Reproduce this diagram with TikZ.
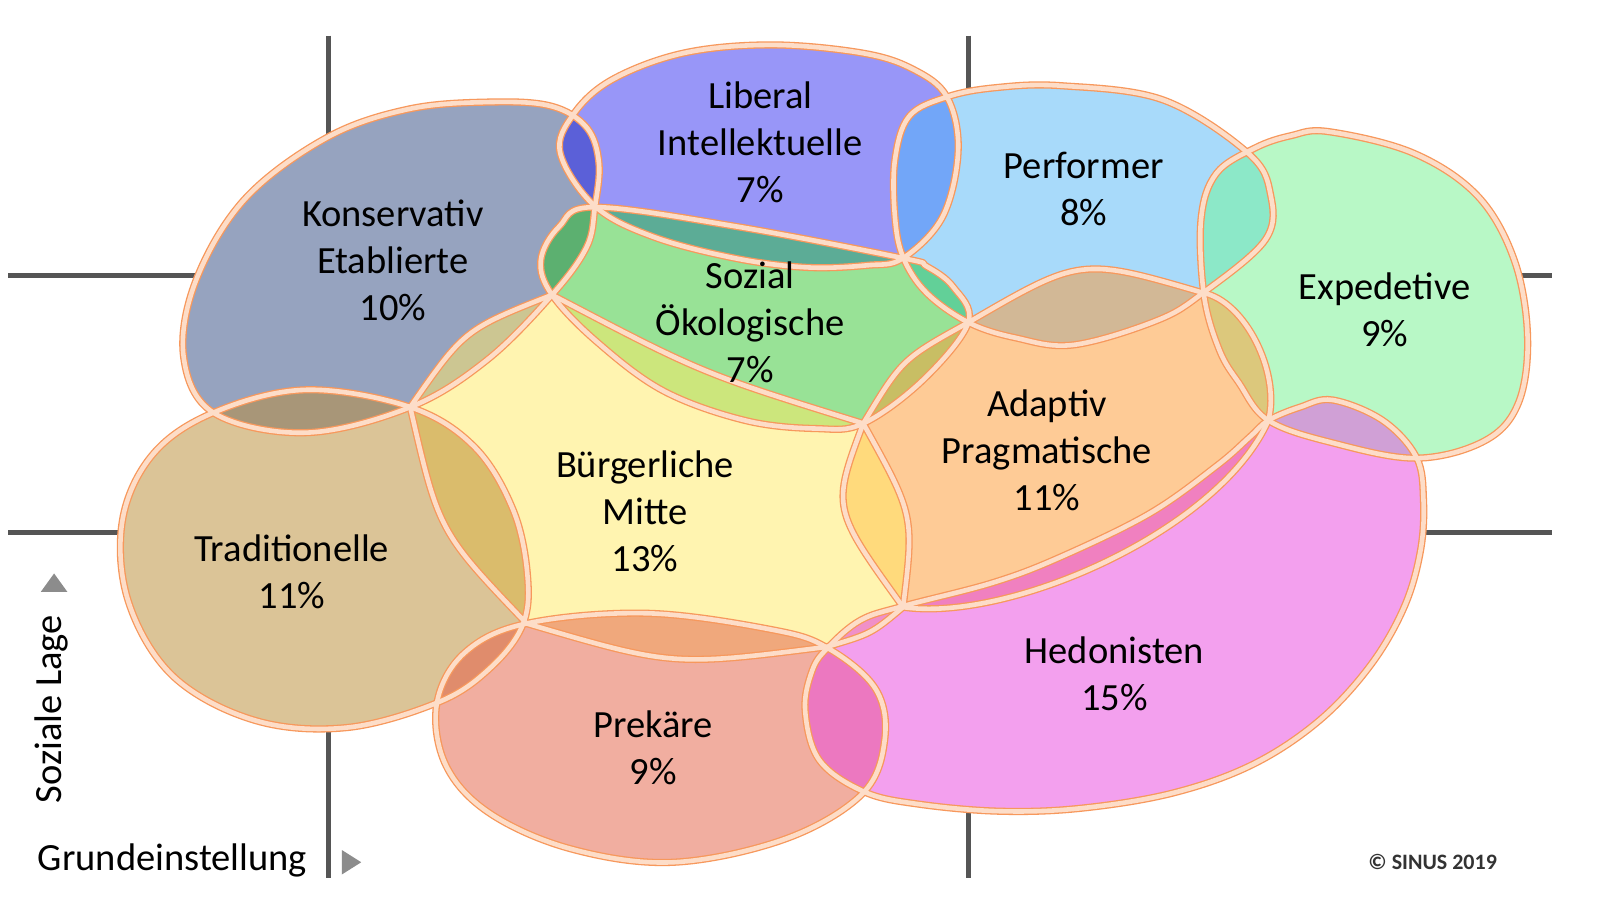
\documentclass[tikz,border=0pt]{standalone}
\usepackage{fontspec}
\setmainfont{Carlito}
\definecolor{cKE}{HTML}{96A3BF}
\definecolor{cLI}{HTML}{9896F8}
\definecolor{cSO}{HTML}{98E296}
\definecolor{cPF}{HTML}{A8DAFA}
\definecolor{cEX}{HTML}{B8F8C6}
\definecolor{cAP}{HTML}{FECB96}
\definecolor{cBM}{HTML}{FFF4B0}
\definecolor{cTR}{HTML}{DBC497}
\definecolor{cPR}{HTML}{F1AEA0}
\definecolor{cHE}{HTML}{F3A0EE}
\definecolor{oKELI}{HTML}{5B60D8}
\definecolor{oKESO}{HTML}{5CB070}
\definecolor{oKEBM}{HTML}{CCC692}
\definecolor{oKETR}{HTML}{A89678}
\definecolor{oLISO}{HTML}{5CAC96}
\definecolor{oLIPF}{HTML}{72A6F8}
\definecolor{oPFSO}{HTML}{62D098}
\definecolor{oPFAP}{HTML}{D2B896}
\definecolor{oPFEX}{HTML}{8CE8C8}
\definecolor{oSOBM}{HTML}{CCE67C}
\definecolor{oSOAP}{HTML}{C8BE64}
\definecolor{oEXAP}{HTML}{DCC87C}
\definecolor{oEXHE}{HTML}{D0A0D6}
\definecolor{oAPBM}{HTML}{FFDA7C}
\definecolor{oAPHE}{HTML}{F080C0}
\definecolor{oBMTR}{HTML}{DABC6C}
\definecolor{oBMPR}{HTML}{F0A87C}
\definecolor{oTRPR}{HTML}{E08C6C}
\definecolor{oPRHE}{HTML}{EC78C0}
\definecolor{oBMHE}{HTML}{F090C8}
\definecolor{edgeorange}{HTML}{F7985C}
\definecolor{edgepeach}{HTML}{FDDDC8}
\definecolor{axisgray}{HTML}{555555}
\definecolor{trigray}{HTML}{8C8C8C}
\definecolor{copygray}{HTML}{333333}

\def\blKE{plot[smooth cycle, tension=0.6] coordinates {(480,100) (540,104) (575,125) (587,160) (583,203) (575,242) (541,289) (477,353) (402,399) (300,424) (210,405) (180,350) (192,275) (240,195) (320,135) (400,107)}}
\def\blLI{plot[smooth cycle, tension=0.6] coordinates {(756,44) (845,52) (895,68) (928,95) (939,147) (924,212) (885,253) (850,260) (790,262) (720,253) (640,232) (583,202) (549,150) (562,112) (600,78) (670,52)}}
\def\blSO{plot[smooth cycle, tension=0.6] coordinates {(530,255) (541,289) (585,335) (650,383) (730,412) (800,420) (846,415) (905,372) (949,316) (934,281) (908,261) (885,253) (722,222) (583,203) (548,222)}}
\def\blPF{plot[smooth cycle, tension=0.6] coordinates {(1040,84) (1140,98) (1223,150) (1245,190) (1240,235) (1179,287) (1134,314) (1052,338) (995,331) (949,316) (908,287) (885,252) (877,212) (877,157) (891,114) (928,95) (975,86)}}
\def\blEX{plot[smooth cycle, tension=0.6] coordinates {(1302,129) (1385,150) (1448,192) (1484,255) (1497,330) (1488,395) (1455,432) (1388,449) (1306,434) (1243,412) (1214,375) (1195,343) (1180,290) (1177,215) (1192,170) (1230,145) (1265,133)}}
\def\blTR{plot[smooth cycle, tension=0.6] coordinates {(300,382) (402,399) (465,438) (503,500) (517,565) (512,613) (480,655) (430,688) (340,713) (250,706) (170,663) (126,590) (120,510) (150,445) (210,404)}}
\def\blPR{plot[smooth cycle, tension=0.6] coordinates {(516,611) (634,601) (756,617) (811,635) (858,675) (867,725) (845,778) (770,822) (660,845) (560,832) (480,797) (437,750) (428,690) (455,640)}}
\def\blHE{plot[smooth cycle, tension=0.6] coordinates {(1243,412) (1274,399) (1306,392) (1355,412) (1388,448) (1395,490) (1392,540) (1376,595) (1343,652) (1293,706) (1228,749) (1150,777) (1060,792) (980,795) (900,788) (847,776) (803,745) (789,696) (796,657) (811,635) (843,608) (885,594) (973,571) (1039,546) (1127,503) (1193,456) (1225,428)}}
\def\blBM{(402,399) .. controls (455,323) .. (541,289) .. controls (688,366) .. (846,415) .. controls (896,505) .. (885,595) .. controls (854,621) .. (810,634) .. controls (659,653) .. (516,611) .. controls (430,521) .. (402,399) -- cycle}
\def\blAP{(949,316) .. controls (1059,252) .. (1179,287) .. controls (1220,295) and (1255,365) .. (1243,412) .. controls (1195,520) and (990,610) .. (885,595) .. controls (815,498) .. (846,415) .. controls (884,352) .. (949,316) -- cycle}

\newcommand\ovlfill[3]{\begin{scope}\clip #1;\fill[#3] #2;\end{scope}}

\begin{document}
\begin{tikzpicture}[x=1.0204pt,y=-1.0204pt,line join=round,
  lbl/.style={align=center,font=\fontsize{38.5}{47}\selectfont,inner sep=0pt,text=black},
  axisline/.style={line width=5.5pt,draw=axisgray},
  edgeo/.style={draw=edgeorange,line width=7.2pt},
  edgep/.style={draw=edgepeach,line width=4.6pt},
  tri/.style={fill=trigray}]
\useasboundingbox (0,0) rectangle (1568,882);
\fill[white] (0,0) rectangle (1568,882);

% axis cross lines
\coordinate (a1s) at (322,35);   \coordinate (a1e) at (322,200);
\coordinate (a2s) at (8,270);    \coordinate (a2e) at (250,270);
\coordinate (a3s) at (949,35);   \coordinate (a3e) at (949,150);
\coordinate (a4s) at (1440,270); \coordinate (a4e) at (1521,270);
\coordinate (a5s) at (8,522);    \coordinate (a5e) at (170,522);
\coordinate (a6s) at (322,680);  \coordinate (a6e) at (322,860);
\coordinate (a7s) at (949,760);  \coordinate (a7e) at (949,860);
\coordinate (a8s) at (1350,522); \coordinate (a8e) at (1521,522);
\draw[axisline] (a1s) -- (a1e);
\draw[axisline] (a2s) -- (a2e);
\draw[axisline] (a3s) -- (a3e);
\draw[axisline] (a4s) -- (a4e);
\draw[axisline] (a5s) -- (a5e);
\draw[axisline] (a6s) -- (a6e);
\draw[axisline] (a7s) -- (a7e);
\draw[axisline] (a8s) -- (a8e);

% base fills
\fill[cKE] \blKE;
\fill[cLI] \blLI;
\fill[cSO] \blSO;
\fill[cPF] \blPF;
\fill[cEX] \blEX;
\fill[cAP] \blAP;
\fill[cBM] \blBM;
\fill[cTR] \blTR;
\fill[cPR] \blPR;
\fill[cHE] \blHE;

% overlaps
\ovlfill{\blKE}{\blLI}{oKELI}
\ovlfill{\blKE}{\blSO}{oKESO}
\ovlfill{\blKE}{\blBM}{oKEBM}
\ovlfill{\blKE}{\blTR}{oKETR}
\ovlfill{\blLI}{\blSO}{oLISO}
\ovlfill{\blLI}{\blPF}{oLIPF}
\ovlfill{\blPF}{\blSO}{oPFSO}
\ovlfill{\blPF}{\blAP}{oPFAP}
\ovlfill{\blPF}{\blEX}{oPFEX}
\ovlfill{\blSO}{\blBM}{oSOBM}
\ovlfill{\blSO}{\blAP}{oSOAP}
\ovlfill{\blEX}{\blAP}{oEXAP}
\ovlfill{\blEX}{\blHE}{oEXHE}
\ovlfill{\blAP}{\blBM}{oAPBM}
\ovlfill{\blAP}{\blHE}{oAPHE}
\ovlfill{\blBM}{\blTR}{oBMTR}
\ovlfill{\blBM}{\blPR}{oBMPR}
\ovlfill{\blTR}{\blPR}{oTRPR}
\ovlfill{\blPR}{\blHE}{oPRHE}
\ovlfill{\blBM}{\blHE}{oBMHE}

% outlines
\foreach \p in {\blKE,\blLI,\blSO,\blPF,\blEX,\blAP,\blBM,\blTR,\blPR,\blHE}{\draw[edgeo] \p;}
\foreach \p in {\blKE,\blLI,\blSO,\blPF,\blEX,\blAP,\blBM,\blTR,\blPR,\blHE}{\draw[edgep] \p;}

% labels
\node[lbl] (tKE) at (385,255) {Konservativ\\Etablierte\\10\%};
\node[lbl] (tLI) at (745,139) {Liberal\\Intellektuelle\\7\%};
\node[lbl] (tPF) at (1062,185) {Performer\\8\%};
\node[lbl] (tSO) at (735,316) {Sozial\\Ökologische\\7\%};
\node[lbl] (tEX) at (1357,304) {Expedetive\\9\%};
\node[lbl] (tAP) at (1026,441) {Adaptiv\\Pragmatische\\11\%};
\node[lbl] (tBM) at (632,501) {Bürgerliche\\Mitte\\13\%};
\node[lbl] (tTR) at (286,560) {Traditionelle\\11\%};
\node[lbl] (tPR) at (640,733) {Prekäre\\9\%};
\node[lbl] (tHE) at (1092,660) {Hedonisten\\15\%};

% axis captions
\node[lbl,rotate=90] (tSL) at (50,695) {Soziale Lage};
\node[lbl] (tGE) at (169,843) {Grundeinstellung};
\fill[tri] (40,580) -- (66,580) -- (53,562) -- cycle;
\fill[tri] (335,833) -- (335,857) -- (354,845) -- cycle;
\node[font=\fontsize{22}{25}\selectfont\bfseries,text=copygray,inner sep=0pt] (tCP) at (1404,845) {© SINUS 2019};
\end{tikzpicture}
\end{document}
